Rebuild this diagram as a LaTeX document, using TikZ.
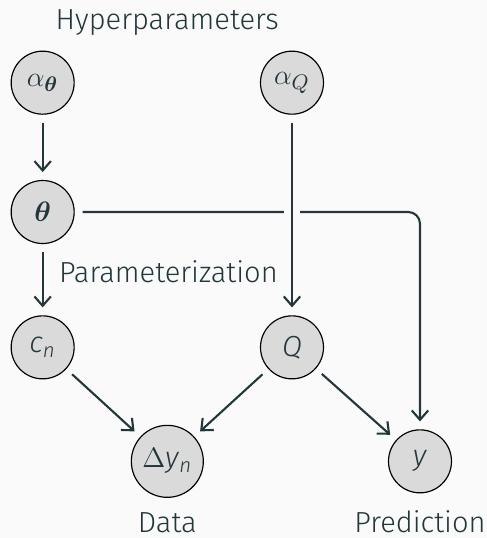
\documentclass[tikz,border=0pt]{standalone}
\usepackage{fontspec}
\usepackage{amsmath}
\setmainfont{Fira Sans}[UprightFont=* Light, ItalicFont=* Light Italic]
\usetikzlibrary{arrows.meta}

\definecolor{fgc}{HTML}{23373B}
\definecolor{bgc}{HTML}{FAFAFA}
\definecolor{nodegray}{HTML}{DADADA}

\tikzset{
	var/.style={draw=black, line width=0.5pt, circle, fill=nodegray, minimum size=0.945cm, inner sep=0pt, outer sep=3.6pt},
	lbl/.style={inner sep=0pt, anchor=base}
}

\begin{document}
\begin{tikzpicture}[->, >={Straight Barb[length=4pt,width=7pt]}, line width=0.9pt, draw=fgc, text=fgc, font=\fontsize{12.4}{15}\selectfont]

	\fill[bgc] (0,0) rectangle (7.305,-8.07);
	\useasboundingbox (0,0) rectangle (7.305,-8.07);

	\node[lbl] (hyper) at (2.51,-0.435) {Hyperparameters};
	\node[var] (aT) at (0.64,-1.24) {$\alpha_{\boldsymbol{\theta}}$};
	\node[var] (aQ) at (4.38,-1.24) {$\alpha_Q$};
	\node[var] (th) at (0.64,-3.18) {$\boldsymbol{\theta}$};
	\node[lbl, anchor=base west] (param) at (0.87,-4.23) {Parameterization};
	\node[var] (cn) at (0.64,-5.21) {\textit{c}\textsubscript{\textit{n}}};
	\node[var] (Q) at (4.38,-5.21) {\textit{Q}};
	\node[var, minimum size=1.08cm] (dy) at (2.51,-6.92) {$\Delta$\textit{y}\textsubscript{\textit{n}}};
	\node[var] (y) at (6.30,-6.92) {\textit{y}};
	\node[lbl] (data) at (2.51,-7.99) {Data};
	\node[lbl] (pred) at (6.30,-7.99) {Prediction};

	\draw (aT) -- (th);
	\draw (th) -- (cn);
	\draw[rounded corners=5pt] (th) -| (y);
	\draw[preaction={draw=bgc, line width=7pt, -}] (aQ) -- (Q);
	\draw (cn) -- (dy);
	\draw (Q) -- (dy);
	\draw (Q) -- (y);
\end{tikzpicture}
\end{document}
